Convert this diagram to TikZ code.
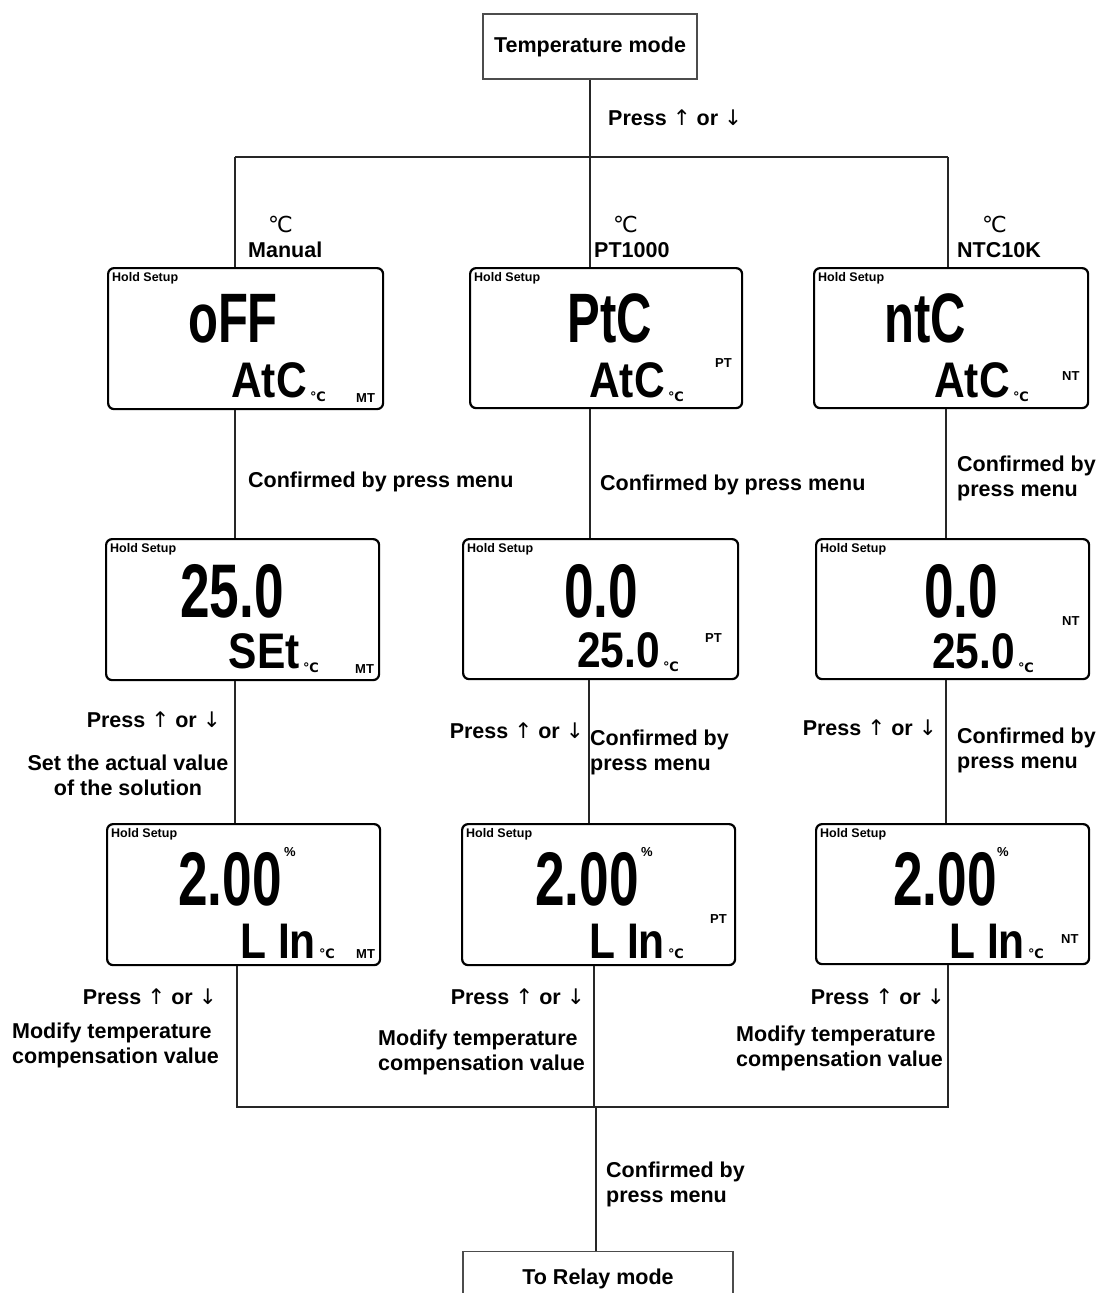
\documentclass[tikz,border=0pt]{standalone}
\usepackage{fontspec}
\setmainfont{Liberation Sans}
\newfontfamily\symfont{DejaVu Sans}
\newfontfamily\lcdbig[FakeStretch=0.7]{Liberation Sans}
\newfontfamily\lcdmid[FakeStretch=0.85]{Liberation Sans}
\newcommand\myup{{\symfont\mdseries ↑}}
\newcommand\mydown{{\symfont\mdseries ↓}}
\usetikzlibrary{calc}
\tikzset{
 conn/.style={line width=1.5pt, draw=black!85},
 plainbox/.style={draw=black!70, line width=1.2pt, minimum width=214pt, minimum height=65pt, inner sep=0pt, font=\bfseries\fontsize{21.5}{26}\selectfont},
 lbl/.style={inner sep=0pt, font=\bfseries\fontsize{21.5}{25}\selectfont},
 deg/.style={inner sep=0pt, anchor=base west, font=\symfont\fontsize{22}{22}\selectfont},
 lcdbox/.style={draw, line width=2.2pt, rounded corners=6pt, anchor=north west, inner sep=0pt},
 hold/.style={inner sep=0pt, anchor=north west, font=\bfseries\fontsize{12.5}{13}\selectfont},
 bigd/.style={inner sep=0pt, anchor=base, font=\lcdbig\bfseries\fontsize{76}{76}\selectfont},
 bigone/.style={inner sep=0pt, anchor=base, font=\lcdbig\bfseries\fontsize{70}{70}\selectfont},
 midd/.style={inner sep=0pt, anchor=base east, font=\lcdmid\bfseries\fontsize{50}{50}\selectfont},
 smalldeg/.style={inner sep=0pt, anchor=base west, font=\symfont\bfseries\fontsize{13}{13}\selectfont},
 pct/.style={inner sep=0pt, anchor=north west, font=\bfseries\fontsize{13}{13}\selectfont},
 tag/.style={inner sep=0pt, anchor=base west, font=\bfseries\fontsize{13}{13}\selectfont},
}
\begin{document}
\begin{tikzpicture}[x=1pt,y=-1pt]
\useasboundingbox (0,0) rectangle (1102,1293);
\fill[white] (0,0) rectangle (1102,1293);
\clip (0,0) rectangle (1102,1293);

% top
\node[plainbox] (top) at (590,46.5) {Temperature mode};
\node[lbl, anchor=west] (p0) at (608,118) {Press \myup{} or \mydown};
\coordinate (jL) at (235,157);
\coordinate (jM) at (590,157);
\coordinate (jR) at (948,157);

% mode labels
\node[deg] (dL) at (268,232) {℃};
\node[lbl, anchor=base west] (nL) at (248,257) {Manual};
\node[deg] (dM) at (613,232) {℃};
\node[lbl, anchor=base west] (nM) at (594,257) {PT1000};
\node[deg] (dR) at (982,232) {℃};
\node[lbl, anchor=base west] (nR) at (957,257) {NTC10K};

% ---------- row 1
\node[lcdbox, minimum width=275pt, minimum height=141pt] (L1) at (107,267) {};
\begin{scope}[shift={(L1.north west)}]
\node[hold] (L1h) at (5,5) {Hold Setup};
\node[bigone] (L1m) at (126,75) {oFF};
\node[midd] (L1s) at (200,130) {AtC};
\node[smalldeg] (L1d) at (203,134) {℃};
\node[tag] (L1t) at (249,135) {MT};
\end{scope}

\node[lcdbox, minimum width=272pt, minimum height=140pt] (M1) at (469,267) {};
\begin{scope}[shift={(M1.north west)}]
\node[hold] (M1h) at (5,5) {Hold Setup};
\node[bigone] (M1m) at (141,75) {PtC};
\node[midd] (M1s) at (196,130) {AtC};
\node[smalldeg] (M1d) at (199,134) {℃};
\node[tag] (M1t) at (246,100) {PT};
\end{scope}

\node[lcdbox, minimum width=274pt, minimum height=140pt] (R1) at (813,267) {};
\begin{scope}[shift={(R1.north west)}]
\node[hold] (R1h) at (5,5) {Hold Setup};
\node[bigone] (R1m) at (112,75) {ntC};
\node[midd] (R1s) at (197,130) {AtC};
\node[smalldeg] (R1d) at (200,134) {℃};
\node[tag] (R1t) at (249,113) {NT};
\end{scope}

% ---------- row 2
\node[lcdbox, minimum width=273pt, minimum height=141pt] (L2) at (105,538) {};
\begin{scope}[shift={(L2.north west)}]
\node[hold] (L2h) at (5,5) {Hold Setup};
\node[bigd] (L2m) at (127,79) {25.0};
\node[midd] (L2s) at (195,130) {SEt};
\node[smalldeg] (L2d) at (198,134) {℃};
\node[tag] (L2t) at (250,135) {MT};
\end{scope}

\node[lcdbox, minimum width=275pt, minimum height=140pt] (M2) at (462,538) {};
\begin{scope}[shift={(M2.north west)}]
\node[hold] (M2h) at (5,5) {Hold Setup};
\node[bigd] (M2m) at (139,79) {0.0};
\node[midd] (M2s) at (198,129) {25.0};
\node[smalldeg] (M2d) at (201,133) {℃};
\node[tag] (M2t) at (243,104) {PT};
\end{scope}

\node[lcdbox, minimum width=273pt, minimum height=140pt] (R2) at (815,538) {};
\begin{scope}[shift={(R2.north west)}]
\node[hold] (R2h) at (5,5) {Hold Setup};
\node[bigd] (R2m) at (146,79) {0.0};
\node[midd] (R2s) at (200,130) {25.0};
\node[smalldeg] (R2d) at (203,134) {℃};
\node[tag] (R2t) at (247,87) {NT};
\end{scope}

% ---------- row 3
\node[lcdbox, minimum width=273pt, minimum height=141pt] (L3) at (106,823) {};
\begin{scope}[shift={(L3.north west)}]
\node[hold] (L3h) at (5,5) {Hold Setup};
\node[bigd] (L3m) at (124,82) {2.00};
\node[pct] (L3p) at (178,24) {\%};
\node[midd] (L3s) at (210,135) {L In};
\node[smalldeg] (L3d) at (213,135) {℃};
\node[tag] (L3t) at (250,135) {MT};
\end{scope}

\node[lcdbox, minimum width=273pt, minimum height=141pt] (M3) at (461,823) {};
\begin{scope}[shift={(M3.north west)}]
\node[hold] (M3h) at (5,5) {Hold Setup};
\node[bigd] (M3m) at (126,82) {2.00};
\node[pct] (M3p) at (180,24) {\%};
\node[midd] (M3s) at (204,135) {L In};
\node[smalldeg] (M3d) at (207,135) {℃};
\node[tag] (M3t) at (249,100) {PT};
\end{scope}

\node[lcdbox, minimum width=273pt, minimum height=140pt] (R3) at (815,823) {};
\begin{scope}[shift={(R3.north west)}]
\node[hold] (R3h) at (5,5) {Hold Setup};
\node[bigd] (R3m) at (130,82) {2.00};
\node[pct] (R3p) at (182,24) {\%};
\node[midd] (R3s) at (210,135) {L In};
\node[smalldeg] (R3d) at (213,135) {℃};
\node[tag] (R3t) at (246,120) {NT};
\end{scope}

% labels row1 -> row2
\node[lbl, anchor=base west] (c1L) at (248,487) {Confirmed by press menu};
\node[lbl, anchor=base west] (c1M) at (600,490) {Confirmed by press menu};
\node[lbl, anchor=west, align=left] (c1R) at (957,478) {Confirmed by\\press menu};

% labels row2 -> row3
\node[lbl, anchor=east] (p2L) at (221,720) {Press \myup{} or \mydown};
\node[lbl, align=center] (s2L) at (128,775) {Set the actual value\\of the solution};
\node[lbl, anchor=east] (p2M) at (584,731) {Press \myup{} or \mydown};
\node[lbl, anchor=west, align=left] (c2M) at (590,752) {Confirmed by\\press menu};
\node[lbl, anchor=east] (p2R) at (937,728) {Press \myup{} or \mydown};
\node[lbl, anchor=west, align=left] (c2R) at (957,750) {Confirmed by\\press menu};

% labels row3 -> bottom
\node[lbl, anchor=east] (p3L) at (217,997) {Press \myup{} or \mydown};
\node[lbl, anchor=west, align=left] (m3L) at (12,1045) {Modify temperature\\compensation value};
\node[lbl, anchor=east] (p3M) at (585,997) {Press \myup{} or \mydown};
\node[lbl, anchor=west, align=left] (m3M) at (378,1052) {Modify temperature\\compensation value};
\node[lbl, anchor=east] (p3R) at (945,997) {Press \myup{} or \mydown};
\node[lbl, anchor=west, align=left] (m3R) at (736,1048) {Modify temperature\\compensation value};

\node[lbl, anchor=west, align=left] (cB) at (606,1184) {Confirmed by\\press menu};
\node[plainbox, minimum width=270pt, minimum height=54pt, anchor=north] (relay) at (598,1251) {To Relay mode};

% connectors
\coordinate (m23) at (589,0);
\coordinate (cR2) at (946,0);
\coordinate (bL) at (237,1107);
\coordinate (bR) at (948,1107);
\coordinate (m3b) at (594,1107);
\coordinate (bM) at (596,1107);
\draw[conn] (top.south) -- (top.south |- jM);
\draw[conn] (jL) -- (jR);
\draw[conn] (jL) -- (jL |- L1.north);
\draw[conn] (jM) -- (jM |- M1.north);
\draw[conn] (jR) -- (jR |- R1.north);
\draw[conn] (L1.south -| jL) -- (L2.north -| jL);
\draw[conn] (M1.south -| jM) -- (M2.north -| jM);
\draw[conn] (R1.south -| cR2) -- (R2.north -| cR2);
\draw[conn] (L2.south -| jL) -- (L3.north -| jL);
\draw[conn] (M2.south -| m23) -- (M3.north -| m23);
\draw[conn] (R2.south -| cR2) -- (R3.north -| cR2);
\draw[conn] (L3.south -| bL) -- (bL) -- (bR) -- (R3.south -| bR);
\draw[conn] (M3.south -| m3b) -- (m3b);
\draw[conn] (bM) -- (bM |- relay.north);
\end{tikzpicture}
\end{document}
